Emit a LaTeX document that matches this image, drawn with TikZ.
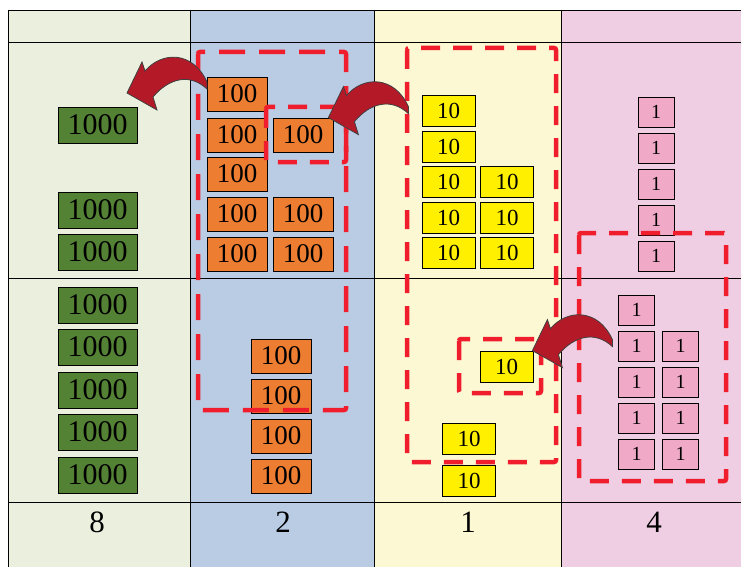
\documentclass[tikz,border=0pt]{standalone}
\usepackage{fontspec}
\setmainfont{Liberation Serif}
\usepackage{xcolor}
\usepackage{tikz}
\definecolor{colthou}{RGB}{235,240,222}
\definecolor{colhund}{RGB}{186,204,228}
\definecolor{colten}{RGB}{252,248,212}
\definecolor{colone}{RGB}{239,205,226}
\definecolor{thougreen}{RGB}{84,130,53}
\definecolor{hundorange}{RGB}{237,125,49}
\definecolor{tenyellow}{RGB}{255,240,0}
\definecolor{onepink}{RGB}{240,170,200}
\definecolor{dashred}{RGB}{240,30,45}
\definecolor{arrowred}{RGB}{180,25,40}

\tikzset{
    thou/.style={draw,thick,fill=thougreen,minimum width=79pt,minimum height=36pt,inner sep=0pt,font=\fontsize{30}{30}\selectfont},
    hund/.style={draw,thick,fill=hundorange,minimum width=60pt,minimum height=34pt,inner sep=0pt,font=\fontsize{27}{27}\selectfont},
    tenbox/.style={draw,thick,fill=tenyellow,minimum width=53pt,minimum height=31pt,inner sep=0pt,font=\fontsize{23}{23}\selectfont},
    onebox/.style={draw,thick,fill=onepink,minimum width=36pt,minimum height=30pt,inner sep=0pt,font=\fontsize{20}{20}\selectfont},
    groupbig/.style={dashred,line width=4.5pt,dash pattern=on 26pt off 14pt,rounded corners=2pt},
    groupsmall/.style={dashred,line width=4.5pt,dash pattern=on 19pt off 13pt,rounded corners=2pt},
    digit/.style={anchor=base,font=\fontsize{31}{31}\selectfont},
    swoop/.pic={
        \draw[fill=arrowred,draw=black!75,line width=0.8pt]
            (0,0) -- (15,-31) -- (18,-22) .. controls (35,-42) and (66,-42) .. (80,-11)
            -- (80,-4) .. controls (63,-20) and (42,-15) .. (26,4) -- (30,17) -- cycle;
    }
}

\begin{document}
\begin{tikzpicture}[x=1pt,y=-1pt]
    \useasboundingbox (0,0) rectangle (741,567);

    % Column backgrounds
    \fill[colthou] (8,10) rectangle (190,567);
    \fill[colhund] (190,10) rectangle (374,567);
    \fill[colten] (374,10) rectangle (561,567);
    \fill[colone] (561,10) rectangle (741,567);

    % Table lines
    \draw[thick] (8,10) -- (741,10);
    \draw[thick] (8,42) -- (741,42);
    \draw[thick] (8,278) -- (741,278);
    \draw[thick] (8,502) -- (741,502);
    \draw[thick] (8,10) -- (8,567);
    \draw[thick] (190,10) -- (190,567);
    \draw[thick] (374,10) -- (374,567);
    \draw[thick] (561,10) -- (561,567);

    % Thousands
    \node[thou] (th1) at (97.5,125) {1000};
    \node[thou] (th2) at (97.5,210) {1000};
    \node[thou] (th3) at (97.5,252) {1000};
    \node[thou] (th4) at (97.5,305) {1000};
    \node[thou] (th5) at (97.5,347) {1000};
    \node[thou] (th6) at (97.5,390) {1000};
    \node[thou] (th7) at (97.5,432) {1000};
    \node[thou] (th8) at (97.5,475) {1000};

    % Hundreds
    \node[hund] (hu1) at (237,94) {100};
    \node[hund] (hu2) at (237,135) {100};
    \node[hund] (hu3) at (303,135) {100};
    \node[hund] (hu4) at (237,174) {100};
    \node[hund] (hu5) at (237,214) {100};
    \node[hund] (hu6) at (303,214) {100};
    \node[hund] (hu7) at (237,254) {100};
    \node[hund] (hu8) at (303,254) {100};
    \node[hund] (hu9) at (281,356) {100};
    \node[hund] (hu10) at (281,396) {100};
    \node[hund] (hu11) at (281,436) {100};
    \node[hund] (hu12) at (281,476) {100};

    % Tens
    \node[tenbox] (te1) at (448.5,110.5) {10};
    \node[tenbox] (te2) at (448.5,146.5) {10};
    \node[tenbox] (te3) at (448.5,182) {10};
    \node[tenbox] (te4) at (507,182) {10};
    \node[tenbox] (te5) at (448.5,217.5) {10};
    \node[tenbox] (te6) at (507,217.5) {10};
    \node[tenbox] (te7) at (448.5,253) {10};
    \node[tenbox] (te8) at (507,253) {10};
    \node[tenbox] (te9) at (506.5,366.5) {10};
    \node[tenbox] (te10) at (469,439) {10};
    \node[tenbox] (te11) at (469,481) {10};

    % Ones
    \node[onebox] (on1) at (656,112) {1};
    \node[onebox] (on2) at (656,148) {1};
    \node[onebox] (on3) at (656,184) {1};
    \node[onebox] (on4) at (656,220) {1};
    \node[onebox] (on5) at (656,256) {1};
    \node[onebox] (on6) at (636.5,310) {1};
    \node[onebox] (on7) at (636.5,346) {1};
    \node[onebox] (on8) at (680.5,346) {1};
    \node[onebox] (on9) at (636.5,382) {1};
    \node[onebox] (on10) at (680.5,382) {1};
    \node[onebox] (on11) at (636.5,418) {1};
    \node[onebox] (on12) at (680.5,418) {1};
    \node[onebox] (on13) at (636.5,454) {1};
    \node[onebox] (on14) at (680.5,454) {1};

    % Regrouping frames
    \draw[groupbig] (198,52) rectangle (346,410);
    \draw[groupsmall] (266,107) rectangle (346,162);
    \draw[groupsmall] (407,48) rectangle (556,462);
    \draw[groupsmall] (459,339) rectangle (541,393);
    \draw[groupsmall] (579,233) rectangle (726,481);

    % Carry arrows
    \coordinate (carrytip) at (127,93);
    \pic at (carrytip) {swoop};
    \pic at ([xshift=-5pt]hu3.north east) {swoop};
    \pic at ([xshift=-1pt]te9.north east) {swoop};

    % Digits
    \node[digit] (dthou) at (97,532) {8};
    \node[digit] (dhund) at (283,532) {2};
    \node[digit] (dten) at (468,532) {1};
    \node[digit] (done) at (654,532) {4};
\end{tikzpicture}
\end{document}
